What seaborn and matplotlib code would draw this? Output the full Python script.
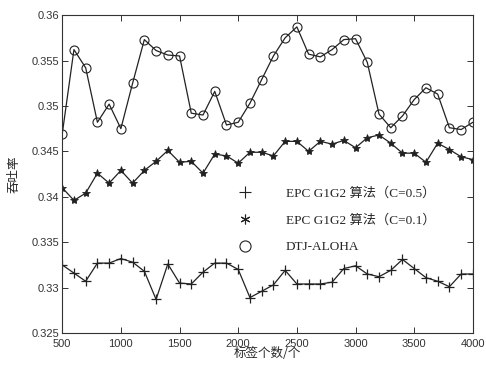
import numpy as np
import pandas as pd
import matplotlib
matplotlib.use('Agg')
import matplotlib.pyplot as plt
from matplotlib.lines import Line2D
import seaborn as sns

tags = list(range(500, 4001, 100))

dtj_aloha = [0.3469, 0.3562, 0.3542, 0.3482, 0.3502, 0.3475, 0.3525, 0.3573, 0.3561, 0.3556,
             0.3555, 0.3492, 0.3490, 0.3516, 0.3479, 0.3482, 0.3503, 0.3529, 0.3555, 0.3575,
             0.3587, 0.3557, 0.3554, 0.3562, 0.3573, 0.3574, 0.3548, 0.3491, 0.3476, 0.3489,
             0.3507, 0.3520, 0.3513, 0.3476, 0.3474, 0.3482]

epc_c01 = [0.3410, 0.3396, 0.3404, 0.3426, 0.3415, 0.3429, 0.3415, 0.3429, 0.3439, 0.3451,
           0.3438, 0.3439, 0.3426, 0.3447, 0.3445, 0.3437, 0.3449, 0.3449, 0.3445, 0.3461,
           0.3461, 0.3450, 0.3461, 0.3458, 0.3462, 0.3454, 0.3465, 0.3468, 0.3459, 0.3448,
           0.3448, 0.3438, 0.3459, 0.3452, 0.3444, 0.3441]

epc_c05 = [0.3325, 0.3316, 0.3307, 0.3327, 0.3327, 0.3332, 0.3328, 0.3318, 0.3287, 0.3326,
           0.3305, 0.3304, 0.3317, 0.3327, 0.3327, 0.3320, 0.3289, 0.3296, 0.3303, 0.3319,
           0.3304, 0.3304, 0.3304, 0.3306, 0.3321, 0.3324, 0.3315, 0.3312, 0.3319, 0.3331,
           0.3321, 0.3311, 0.3307, 0.3301, 0.3315, 0.3315]

labels = ['EPC G1G2 算法（C=0.5）', 'EPC G1G2 算法（C=0.1）', 'DTJ-ALOHA']

sns.set_style('ticks')
plt.rcParams['font.family'] = ['Liberation Sans', 'Noto Sans CJK SC']

fig = plt.figure(figsize=(4.86, 3.68), dpi=100)
ax = fig.add_axes([0.128, 0.095, 0.845, 0.864])

sns.lineplot(x=tags, y=epc_c05, ax=ax, color='#222222', lw=0.9, marker='+',
             markersize=7.5, markeredgewidth=0.9, markeredgecolor='#222222')
sns.lineplot(x=tags, y=epc_c01, ax=ax, color='#222222', lw=0.9, marker='*',
             markersize=6, markeredgewidth=0.6, markeredgecolor='#222222')
sns.lineplot(x=tags, y=dtj_aloha, ax=ax, color='#222222', lw=0.9, marker='o',
             markersize=6.5, markerfacecolor='none', markeredgewidth=0.8,
             markeredgecolor='#222222')

ax.set_xlim(500, 4000)
ax.set_ylim(0.325, 0.36)
ax.set_xticks(range(500, 4001, 500))
ax.set_yticks(np.arange(0.325, 0.3601, 0.005))
ax.set_yticklabels(['0.325', '0.33', '0.335', '0.34', '0.345', '0.35', '0.355', '0.36'])
ax.tick_params(direction='in', top=True, right=True, labelsize=8, colors='#333333',
               length=4, width=0.7)
ax.tick_params(axis='x', pad=4)
ax.tick_params(axis='y', pad=2)
for s in ax.spines.values():
    s.set_linewidth(0.8)
    s.set_color('#333333')

ax.set_xlabel('标签个数/个', fontsize=9, labelpad=-1, family=['Noto Sans CJK SC'])
ax.set_ylabel('吞吐率', fontsize=9, labelpad=8, family=['Noto Sans CJK SC'])

handles = [Line2D([], [], ls='none', marker='+', color='#222222', markersize=8, markeredgewidth=0.8),
           Line2D([], [], ls='none', marker=(6, 2, 0), color='#222222', markersize=7, markeredgewidth=0.8),
           Line2D([], [], ls='none', marker='o', color='#222222', markersize=8,
                  markerfacecolor='none', markeredgewidth=0.8)]
ax.legend(handles, labels, loc='center left', bbox_to_anchor=(0.40, 0.355), frameon=False,
          prop={'family': ['Liberation Serif', 'Noto Sans CJK SC'], 'size': 9.5},
          labelspacing=1.1, handletextpad=2.6, handlelength=1.0)

fig.savefig('out.png', dpi=100)
